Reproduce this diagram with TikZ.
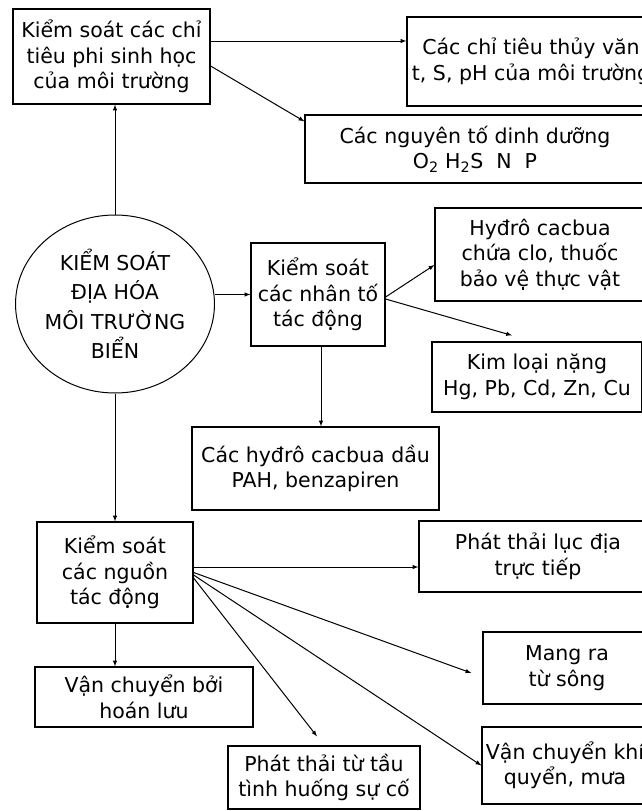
\documentclass[tikz,border=0pt]{standalone}
\usepackage{fontspec}
\setmainfont{DejaVu Sans}
\usetikzlibrary{shapes.geometric, positioning}

\begin{document}
\begin{tikzpicture}[x=1pt, y=-1pt,
  box/.style={draw, line width=1.2pt, align=center, inner sep=0pt, font=\fontsize{20.5}{25.5}\selectfont},
  arr/.style={-latex, line width=1pt}]
\useasboundingbox (0,0) rectangle (641,811);
% tam
\node [ellipse, draw, line width=1pt, minimum width=184pt, minimum height=178pt, inner sep=0pt, align=center, font=\fontsize{20.5}{29.5}\selectfont] (cBien) at (115,304) {KIỂM SOÁT\\ĐỊA HÓA\\MÔI TRƯỜNG\\BIỂN};
% nhanh tren
\node [box, minimum width=197pt, minimum height=95pt] (bPhi) at (111.5,56.5) {Kiểm soát các chỉ\\tiêu phi sinh học\\của môi trường};
\node [box, minimum width=248pt, minimum height=89pt] (bThuyVan) at (531,61.5) {Các chỉ tiêu thủy văn\\t, S, pH của môi trường};
\node [box, minimum width=340pt, minimum height=68pt] (bDinhDuong) at (475,149) {Các nguyên tố dinh dưỡng\\O\textsubscript{2} H\textsubscript{2}S\ \ N\ \ P};
% nhanh giua
\node [box, minimum width=134pt, minimum height=103pt] (bNhanTo) at (318,294.5) {Kiểm soát\\các nhân tố\\tác động};
\node [box, minimum width=210pt, minimum height=93pt] (bHydro) at (540,254.5) {Hyđrô cacbua\\chứa clo, thuốc\\bảo vệ thực vật};
\node [box, minimum width=210pt, minimum height=70pt] (bKimLoai) at (537,377) {Kim loại nặng\\Hg, Pb, Cd, Zn, Cu};
\node [box, minimum width=247pt, minimum height=83pt] (bDau) at (315.5,468.5) {Các hyđrô cacbua dầu\\PAH, benzapiren};
% nhanh duoi
\node [box, minimum width=156pt, minimum height=101pt] (bNguon) at (115,572.5) {Kiểm soát\\các nguồn\\tác động};
\node [box, minimum width=238pt, minimum height=71pt] (bLucDia) at (538,556.5) {Phát thải lục địa\\trực tiếp};
\node [box, minimum width=168pt, minimum height=72pt] (bSong) at (567,668) {Mang ra\\từ sông};
\node [box, minimum width=166pt, minimum height=77pt] (bKhi) at (565,765.5) {Vận chuyển khí\\quyển, mưa};
\node [box, minimum width=192pt, minimum height=63pt] (bTau) at (324,777.5) {Phát thải từ tầu\\tình huống sự cố};
\node [box, minimum width=218pt, minimum height=60pt] (bHoanLuu) at (144,697) {Vận chuyển bởi\\hoán lưu};

\coordinate (pPhi) at ([yshift=15.5pt]bPhi.east);
\coordinate (pNguon) at ([yshift=5.5pt]bNguon.east);

\draw [arr] (cBien.north) -- (cBien.north |- bPhi.south);
\draw [arr] (pPhi) -- (pPhi -| bThuyVan.west);
\draw [arr] ([yshift=-9.5pt]bPhi.east) -- ([yshift=-7pt]bDinhDuong.north west);
\draw [arr] (bNhanTo.west -| cBien.east) -- (bNhanTo.west);
\draw [arr] ([yshift=-2.5pt]bNhanTo.east) -- ([yshift=-10.5pt]bHydro.west);
\draw [arr] ([yshift=-4.5pt]bNhanTo.east) -- ([xshift=-25pt,yshift=6pt]bKimLoai.north);
\draw [arr] ([xshift=3pt]bNhanTo.south) -- ([xshift=3pt]bNhanTo.south |- bDau.north);
\draw [arr] (cBien.south) -- (cBien.south |- bNguon.north);
\draw [arr] (pNguon) -- (pNguon -| bLucDia.west);
\draw [arr] (bNguon.east) -- ([xshift=-11pt,yshift=-5pt]bSong.west);
\draw [arr] ([yshift=-2.5pt]bNguon.east) -- (bKhi.west);
\draw [arr] ([yshift=-5.5pt]bNguon.east) -- ([xshift=-7pt,yshift=9pt]bTau.north);
\draw [arr] (bNguon.south) -- (bNguon.south |- bHoanLuu.north);
\end{tikzpicture}
\end{document}
